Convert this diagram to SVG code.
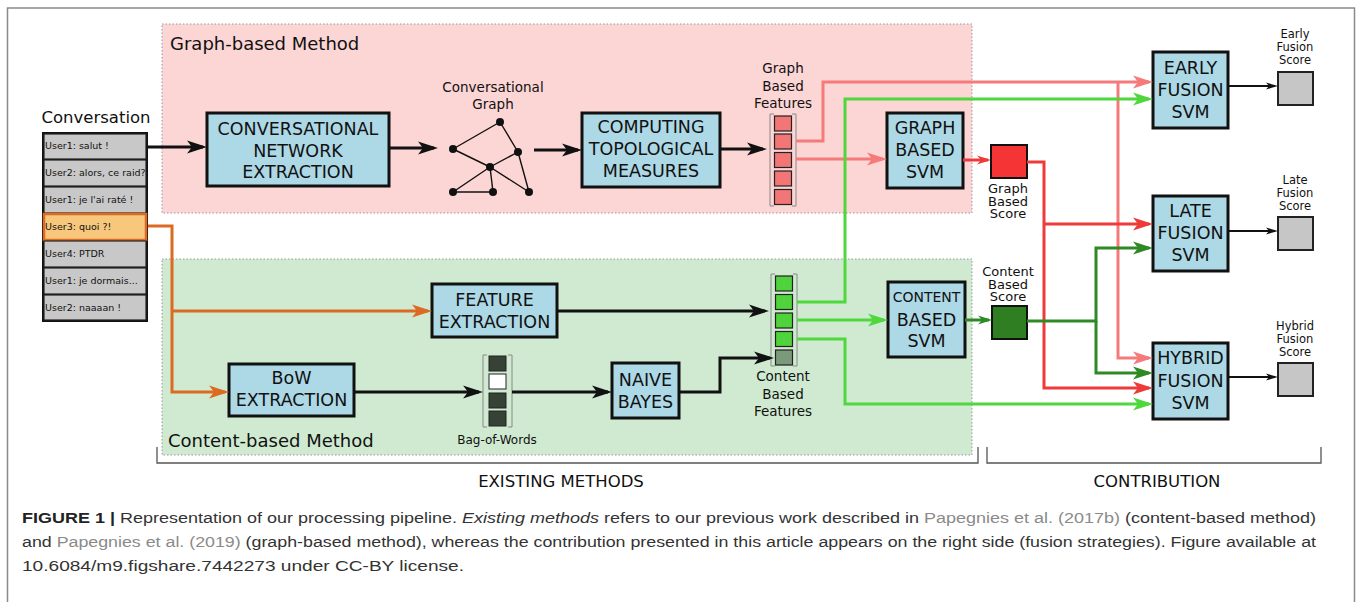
<svg xmlns="http://www.w3.org/2000/svg" width="1357" height="602" viewBox="0 0 1357 602">
<style>
.t{font-family:"DejaVu Sans",sans-serif;fill:#111}
.box{fill:#add8e6;stroke:#111;stroke-width:3}
.bt{font-family:"DejaVu Sans",sans-serif;font-size:17.5px;fill:#111;text-anchor:middle}
.lbl{font-family:"DejaVu Sans",sans-serif;font-size:13.5px;fill:#111;text-anchor:middle}
.sl{font-family:"DejaVu Sans",sans-serif;font-size:11.5px;fill:#111;text-anchor:middle}
.gs{font-family:"DejaVu Sans",sans-serif;font-size:13px;fill:#111;text-anchor:middle}
.row{fill:#c8c8c8;stroke:#222;stroke-width:1.2}
.rt{font-family:"DejaVu Sans",sans-serif;font-size:9.5px;fill:#111}
.c{fill:none;stroke-width:3}
.br{fill:none;stroke:#888;stroke-width:1}
.cap{font-family:"Liberation Sans",Arial,sans-serif;font-size:15.5px;fill:#333}
.lnk{fill:#8a8a8a}
</style>
<defs>
<marker id="aK" markerUnits="userSpaceOnUse" markerWidth="30" markerHeight="20" overflow="visible" orient="auto"><path d="M-16,-6.5 L4,0 L-16,6.5 L-11,0 Z" fill="#111"/></marker>
<marker id="aKs" markerUnits="userSpaceOnUse" markerWidth="20" markerHeight="20" overflow="visible" orient="auto"><path d="M-9,-3.5 L3,0 L-9,3.5 L-6,0 Z" fill="#111"/></marker>
<marker id="aO" markerUnits="userSpaceOnUse" markerWidth="30" markerHeight="20" overflow="visible" orient="auto"><path d="M-16,-6.5 L4,0 L-16,6.5 L-11,0 Z" fill="#dc6a22"/></marker>
<marker id="aP" markerUnits="userSpaceOnUse" markerWidth="30" markerHeight="20" overflow="visible" orient="auto"><path d="M-16,-6.5 L4,0 L-16,6.5 L-11,0 Z" fill="#f57a7a"/></marker>
<marker id="aG" markerUnits="userSpaceOnUse" markerWidth="30" markerHeight="20" overflow="visible" orient="auto"><path d="M-16,-6.5 L4,0 L-16,6.5 L-11,0 Z" fill="#4fd83c"/></marker>
<marker id="aR" markerUnits="userSpaceOnUse" markerWidth="30" markerHeight="20" overflow="visible" orient="auto"><path d="M-16,-6.5 L4,0 L-16,6.5 L-11,0 Z" fill="#f03a3a"/></marker>
<marker id="aD" markerUnits="userSpaceOnUse" markerWidth="30" markerHeight="20" overflow="visible" orient="auto"><path d="M-16,-6.5 L4,0 L-16,6.5 L-11,0 Z" fill="#2f8a26"/></marker>
<marker id="aRs" markerUnits="userSpaceOnUse" markerWidth="20" markerHeight="20" overflow="visible" orient="auto"><path d="M-11,-4.5 L3,0 L-11,4.5 L-7,0 Z" fill="#f03a3a"/></marker>
<marker id="aDs" markerUnits="userSpaceOnUse" markerWidth="20" markerHeight="20" overflow="visible" orient="auto"><path d="M-11,-4.5 L3,0 L-11,4.5 L-7,0 Z" fill="#2f8a26"/></marker>
</defs>
<rect width="1357" height="602" fill="#fff"/>
<rect x="7.5" y="8" width="1347" height="620" fill="none" stroke="#8a8a8a" stroke-width="1.5"/>

<g id="graph-region">
<rect x="162" y="24" width="810" height="189" fill="#fcd5d5" stroke="#999" stroke-width="1" stroke-dasharray="1.5,2"/>
<text class="t" x="170" y="50" font-size="18">Graph-based Method</text>
</g>
<g id="content-region">
<rect x="162" y="259" width="810" height="196" fill="#cfead0" stroke="#999" stroke-width="1" stroke-dasharray="1.5,2"/>
<text class="t" x="168" y="447" font-size="18">Content-based Method</text>
</g>

<g id="conversation">
<text class="t" x="96" y="123" font-size="16.5" text-anchor="middle">Conversation</text>
<rect x="42" y="132" width="106" height="190" fill="#111"/>
<rect class="row" x="44" y="134" width="102" height="25"/>
<rect class="row" x="44" y="160" width="102" height="26"/>
<rect class="row" x="44" y="187" width="102" height="26"/>
<rect x="44" y="214" width="102" height="26" fill="#f7c77c" stroke="#dc6a22" stroke-width="2.5"/>
<rect class="row" x="44" y="241" width="102" height="26"/>
<rect class="row" x="44" y="268" width="102" height="26"/>
<rect class="row" x="44" y="295" width="102" height="25"/>
<text class="rt" x="45" y="149">User1: salut !</text>
<text class="rt" x="45" y="176">User2: alors, ce raid?</text>
<text class="rt" x="45" y="203">User1: je l'ai raté !</text>
<text class="rt" x="45" y="230">User3: quoi ?!</text>
<text class="rt" x="45" y="257">User4: PTDR</text>
<text class="rt" x="45" y="284">User1: je dormais...</text>
<text class="rt" x="45" y="311">User2: naaaan !</text>
</g>

<g id="conversational-network-extraction">
<rect class="box" x="207" y="113" width="182" height="73"/>
<text class="bt" x="298" y="135">CONVERSATIONAL</text>
<text class="bt" x="298" y="156.5">NETWORK</text>
<text class="bt" x="298" y="178">EXTRACTION</text>
</g>

<g id="conversational-graph">
<text class="lbl" x="493" y="92">Conversational</text>
<text class="lbl" x="493" y="109">Graph</text>
<g stroke="#111" stroke-width="1.4">
<line x1="500" y1="122" x2="453" y2="149"/>
<line x1="500" y1="122" x2="518" y2="152"/>
<line x1="453" y1="149" x2="490" y2="167"/>
<line x1="518" y1="152" x2="490" y2="167"/>
<line x1="518" y1="152" x2="529" y2="192"/>
<line x1="490" y1="167" x2="453" y2="192"/>
<line x1="490" y1="167" x2="493" y2="192"/>
<line x1="490" y1="167" x2="529" y2="192"/>
<line x1="453" y1="192" x2="493" y2="192"/>
</g>
<g fill="#111">
<circle cx="500" cy="122" r="4"/><circle cx="453" cy="149" r="4"/><circle cx="518" cy="152" r="4"/>
<circle cx="490" cy="167" r="4"/><circle cx="453" cy="192" r="4"/><circle cx="493" cy="192" r="4"/><circle cx="529" cy="192" r="4"/>
</g>
</g>

<g id="computing-topological-measures">
<rect class="box" x="582" y="113" width="138" height="74"/>
<text class="bt" x="651" y="133">COMPUTING</text>
<text class="bt" x="651" y="155">TOPOLOGICAL</text>
<text class="bt" x="651" y="177">MEASURES</text>
</g>

<g id="graph-based-features">
<text class="lbl" x="783" y="73">Graph</text>
<text class="lbl" x="783" y="91">Based</text>
<text class="lbl" x="783" y="108">Features</text>
<path class="br" d="M774,114 H770 V206 H774 M792,114 H796 V206 H792"/>
<g fill="#f27676" stroke="#222" stroke-width="1.2">
<rect x="774.5" y="116" width="17" height="15"/>
<rect x="774.5" y="134" width="17" height="15"/>
<rect x="774.5" y="152.5" width="17" height="15"/>
<rect x="774.5" y="171" width="17" height="15"/>
<rect x="774.5" y="189.5" width="17" height="15"/>
</g>
</g>

<g id="graph-based-svm">
<rect class="box" x="887" y="113" width="76" height="75"/>
<text class="bt" x="925" y="134">GRAPH</text>
<text class="bt" x="925" y="156">BASED</text>
<text class="bt" x="925" y="178">SVM</text>
</g>

<g id="graph-based-score">
<rect x="991" y="145" width="36" height="33" fill="#f53535" stroke="#111" stroke-width="2"/>
<text class="gs" x="1008" y="193">Graph</text>
<text class="gs" x="1008" y="205.5">Based</text>
<text class="gs" x="1008" y="218">Score</text>
</g>

<g id="feature-extraction">
<rect class="box" x="432" y="284" width="125" height="53"/>
<text class="bt" x="494.5" y="306">FEATURE</text>
<text class="bt" x="494.5" y="328">EXTRACTION</text>
</g>

<g id="bow-extraction">
<rect class="box" x="229" y="364" width="125" height="52"/>
<text class="bt" x="291.5" y="384">BoW</text>
<text class="bt" x="291.5" y="406">EXTRACTION</text>
</g>

<g id="bag-of-words">
<path class="br" d="M487,355 H483 V427 H487 M508,355 H512 V427 H508"/>
<g stroke="#222" stroke-width="1">
<rect x="489" y="356" width="17" height="15" fill="#354235"/>
<rect x="489" y="374" width="17" height="15" fill="#fff"/>
<rect x="489" y="393" width="17" height="15" fill="#354235"/>
<rect x="489" y="411" width="17" height="15" fill="#354235"/>
</g>
<text class="sl" x="497" y="444" style="font-size:12px">Bag-of-Words</text>
</g>

<g id="naive-bayes">
<rect class="box" x="612" y="363" width="67" height="55"/>
<text class="bt" x="645.5" y="385.5">NAIVE</text>
<text class="bt" x="645.5" y="408">BAYES</text>
</g>

<g id="content-based-features">
<path class="br" d="M775,274 H771 V366 H775 M793,274 H797 V366 H793"/>
<g stroke="#222" stroke-width="1.2">
<rect x="775.5" y="276" width="17" height="15" fill="#4fd23c"/>
<rect x="775.5" y="294.5" width="17" height="15" fill="#4fd23c"/>
<rect x="775.5" y="313" width="17" height="15" fill="#4fd23c"/>
<rect x="775.5" y="331.5" width="17" height="15" fill="#4fd23c"/>
<rect x="775.5" y="350" width="17" height="15" fill="#7b9a7b"/>
</g>
<text class="lbl" x="783" y="381">Content</text>
<text class="lbl" x="783" y="399">Based</text>
<text class="lbl" x="783" y="416">Features</text>
</g>

<g id="content-based-svm">
<rect class="box" x="888" y="282" width="77" height="75"/>
<text class="bt" x="926.5" y="302" style="font-size:14px">CONTENT</text>
<text class="bt" x="926.5" y="325.5">BASED</text>
<text class="bt" x="926.5" y="347">SVM</text>
</g>

<g id="content-based-score">
<text class="gs" x="1008" y="276">Content</text>
<text class="gs" x="1008" y="288.5">Based</text>
<text class="gs" x="1008" y="301">Score</text>
<rect x="992" y="306" width="35" height="33" fill="#2f7f22" stroke="#111" stroke-width="2"/>
</g>

<g id="early-fusion-svm">
<rect class="box" x="1153" y="52" width="75" height="76"/>
<text class="bt" x="1190.5" y="74">EARLY</text>
<text class="bt" x="1190.5" y="96">FUSION</text>
<text class="bt" x="1190.5" y="118">SVM</text>
</g>
<g id="late-fusion-svm">
<rect class="box" x="1153" y="196" width="75" height="75"/>
<text class="bt" x="1190.5" y="217">LATE</text>
<text class="bt" x="1190.5" y="239">FUSION</text>
<text class="bt" x="1190.5" y="261">SVM</text>
</g>
<g id="hybrid-fusion-svm">
<rect class="box" x="1153" y="343" width="75" height="76"/>
<text class="bt" x="1190.5" y="364">HYBRID</text>
<text class="bt" x="1190.5" y="387">FUSION</text>
<text class="bt" x="1190.5" y="409">SVM</text>
</g>

<g id="early-fusion-score">
<text class="sl" x="1295" y="38">Early</text>
<text class="sl" x="1295" y="51">Fusion</text>
<text class="sl" x="1295" y="64">Score</text>
<rect x="1278" y="72" width="35" height="33" fill="#c6c6c6" stroke="#222" stroke-width="2"/>
</g>
<g id="late-fusion-score">
<text class="sl" x="1295" y="184">Late</text>
<text class="sl" x="1295" y="197">Fusion</text>
<text class="sl" x="1295" y="210">Score</text>
<rect x="1278" y="217" width="35" height="33" fill="#c6c6c6" stroke="#222" stroke-width="2"/>
</g>
<g id="hybrid-fusion-score">
<text class="sl" x="1295" y="330">Hybrid</text>
<text class="sl" x="1295" y="343">Fusion</text>
<text class="sl" x="1295" y="356">Score</text>
<rect x="1278" y="363" width="35" height="33" fill="#c6c6c6" stroke="#222" stroke-width="2"/>
</g>

<g id="connectors">
<path class="c" stroke="#111" d="M148,147 H203" marker-end="url(#aK)"/>
<path class="c" stroke="#111" d="M389,148 H434" marker-end="url(#aK)"/>
<path class="c" stroke="#111" d="M534,150 H578" marker-end="url(#aK)"/>
<path class="c" stroke="#111" d="M720,149 H763" marker-end="url(#aK)"/>
<path class="c" stroke="#dc6a22" d="M148,226 H172 V392 H225" marker-end="url(#aO)"/>
<path class="c" stroke="#dc6a22" d="M172,311 H428" marker-end="url(#aO)"/>
<path class="c" stroke="#111" d="M557,311 H765" marker-end="url(#aK)"/>
<path class="c" stroke="#111" d="M354,392 H479" marker-end="url(#aK)"/>
<path class="c" stroke="#111" d="M512,392 H608" marker-end="url(#aK)"/>
<path class="c" stroke="#111" d="M679,392 H720 V358 H770" marker-end="url(#aK)"/>
<path class="c" stroke="#f57a7a" d="M796,141 H823 V82 H1149" marker-end="url(#aP)"/>
<path class="c" stroke="#f57a7a" d="M1118,82 V358 H1149" marker-end="url(#aP)"/>
<path class="c" stroke="#f57a7a" d="M796,159 H883" marker-end="url(#aP)"/>
<path class="c" stroke="#4fd83c" d="M797,302 H845 V99 H1149" marker-end="url(#aG)"/>
<path class="c" stroke="#4fd83c" d="M797,320 H884" marker-end="url(#aG)"/>
<path class="c" stroke="#4fd83c" d="M797,339 H845 V404 H1149" marker-end="url(#aG)"/>
<path class="c" stroke="#f03a3a" d="M963,160 H988" marker-end="url(#aRs)"/>
<path class="c" stroke="#f03a3a" d="M1027,162 H1044 V388 H1149" marker-end="url(#aR)"/>
<path class="c" stroke="#f03a3a" d="M1044,224 H1149" marker-end="url(#aR)"/>
<path class="c" stroke="#2f8a26" d="M965,320 H989" marker-end="url(#aDs)"/>
<path class="c" stroke="#2f8a26" d="M1027,321 H1096 V248 H1149" marker-end="url(#aD)"/>
<path class="c" stroke="#2f8a26" d="M1096,321 V373 H1149" marker-end="url(#aD)"/>
<path fill="none" stroke="#111" stroke-width="2" d="M1228,86 H1275" marker-end="url(#aKs)"/>
<path fill="none" stroke="#111" stroke-width="2" d="M1228,231 H1275" marker-end="url(#aKs)"/>
<path fill="none" stroke="#111" stroke-width="2" d="M1228,377 H1275" marker-end="url(#aKs)"/>
</g>

<g id="brackets">
<path fill="none" stroke="#555" stroke-width="1.3" d="M157,447 V463 H978 V447"/>
<path fill="none" stroke="#555" stroke-width="1.3" d="M987,447 V463 H1321 V447"/>
<text class="t" x="561" y="487" font-size="16.5" text-anchor="middle">EXISTING METHODS</text>
<text class="t" x="1157" y="487" font-size="16.5" text-anchor="middle">CONTRIBUTION</text>
</g>

<g id="caption">
<text class="cap" x="22" y="523" textLength="1294" lengthAdjust="spacingAndGlyphs"><tspan font-weight="bold" fill="#222">FIGURE 1 |</tspan> Representation of our processing pipeline. <tspan font-style="italic">Existing methods</tspan> refers to our previous work described in <tspan class="lnk">Papegnies et al. (2017b)</tspan> (content-based method)</text>
<text class="cap" x="22" y="547" textLength="1294" lengthAdjust="spacingAndGlyphs">and <tspan class="lnk">Papegnies et al. (2019)</tspan> (graph-based method), whereas the contribution presented in this article appears on the right side (fusion strategies). Figure available at</text>
<text class="cap" x="22" y="571" textLength="442" lengthAdjust="spacingAndGlyphs">10.6084/m9.figshare.7442273 under CC-BY license.</text>
</g>
</svg>
